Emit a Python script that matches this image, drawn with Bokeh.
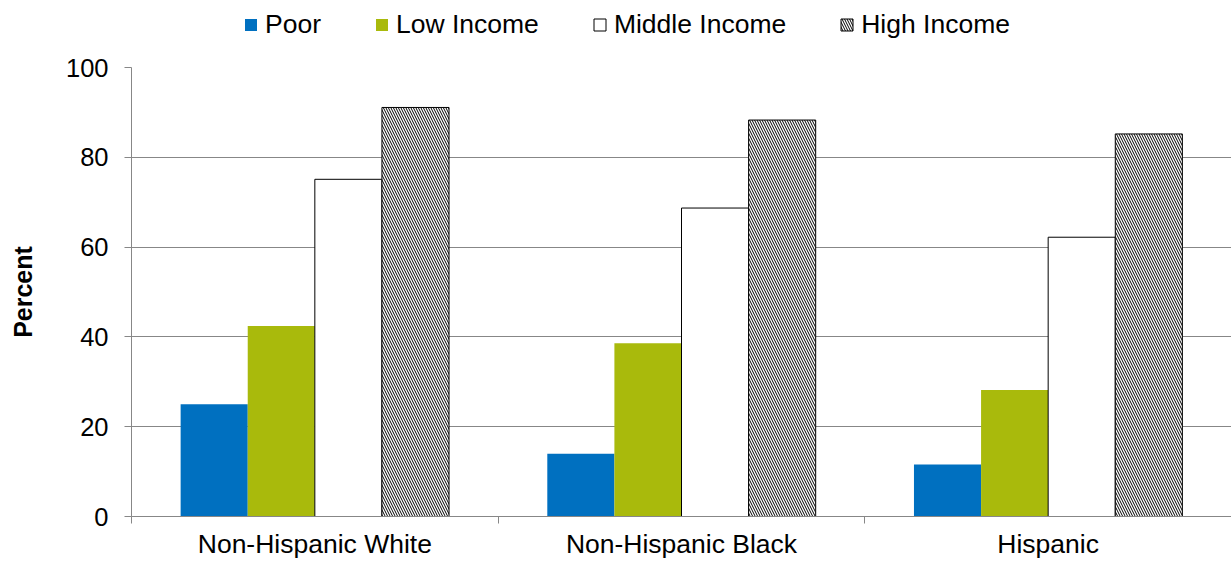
import numpy as np
from bokeh.plotting import figure
from bokeh.layouts import column
from bokeh.models import (ColumnDataSource, FixedTicker, Legend, LegendItem, Range1d)
from bokeh.embed import file_html
from bokeh.resources import INLINE

# ---- data ----
categories = ["Non-Hispanic White", "Non-Hispanic Black", "Hispanic"]
series_names = ["Poor", "Low Income", "Middle Income", "High Income"]
poor = [25.0, 14.0, 11.6]
low_income = [42.4, 38.6, 28.2]
middle_income = [75.1, 68.7, 62.2]
high_income = [91.1, 88.3, 85.2]
y_ticks = [0, 20, 40, 60, 80, 100]

FONT = "Liberation Sans"
GRAY = "#878787"
BLUE = "#0070C0"
GREEN = "#A9BA0C"

centers = np.arange(len(categories)) + 0.5
bw = 0.183
offsets = [-1.5 * bw, -0.5 * bw, 0.5 * bw, 1.5 * bw]

styles = [
    dict(fill_color=BLUE, line_color=None),
    dict(fill_color=GREEN, line_color=None),
    dict(fill_color="white", line_color="black", line_width=1),
    dict(fill_color="white", line_color="black", line_width=1,
         hatch_pattern="\\", hatch_color="black", hatch_scale=5, hatch_weight=1),
]

# ---------------- main chart ----------------
p = figure(width=1231, height=511, output_backend="svg", toolbar_location=None,
           x_range=Range1d(0, 3), y_range=Range1d(0, 100),
           min_border_left=131, min_border_right=0, min_border_top=17,
           min_border_bottom=44)
p.outline_line_color = None
p.background_fill_color = "white"

series = [poor, low_income, middle_income, high_income]
for vals, off, st in zip(series, offsets, styles):
    src = ColumnDataSource(dict(x=centers + off, top=vals))
    p.vbar(x="x", top="top", width=bw, bottom=0, source=src, **st)

p.xgrid.visible = False
p.ygrid.ticker = FixedTicker(ticks=y_ticks[1:])
p.ygrid.grid_line_color = GRAY
p.ygrid.grid_line_width = 1

ya = p.yaxis[0]
ya.ticker = FixedTicker(ticks=y_ticks)
ya.axis_line_color = GRAY
ya.major_tick_line_color = GRAY
ya.major_tick_out = 7
ya.major_tick_in = 0
ya.minor_tick_line_color = None
ya.major_label_standoff = 16
ya.major_label_text_font = FONT
ya.major_label_text_font_size = "25.5px"
ya.major_label_text_color = "black"
ya.axis_label = "Percent"
ya.axis_label_text_font = FONT
ya.axis_label_text_font_style = "bold"
ya.axis_label_text_font_size = "25px"
ya.axis_label_text_color = "black"
ya.axis_label_standoff = 26

xa = p.xaxis[0]
xa.ticker = FixedTicker(ticks=list(centers), minor_ticks=[0, 1, 2, 3])
xa.major_label_overrides = {float(c): lab for c, lab in zip(centers, categories)}
xa.axis_line_color = GRAY
xa.major_tick_line_color = None
xa.major_tick_out = 7
xa.major_tick_in = 0
xa.minor_tick_line_color = GRAY
xa.minor_tick_out = 7
xa.minor_tick_in = 0
xa.major_label_standoff = 5
xa.major_label_text_font = FONT
xa.major_label_text_font_size = "26.5px"
xa.major_label_text_color = "black"

# ---------------- legend strip ----------------
lg = figure(width=1231, height=50, output_backend="svg", toolbar_location=None,
            x_range=Range1d(0, 1), y_range=Range1d(0, 1),
            x_axis_type=None, y_axis_type=None, min_border=0)
lg.outline_line_color = None
lg.xgrid.visible = False
lg.ygrid.visible = False
legend_renderers = []
for st in styles:
    placeholder = ColumnDataSource(dict(x=[np.nan], top=[np.nan]))
    legend_renderers.append(lg.vbar(x="x", top="top", width=0.1, bottom=0,
                                    source=placeholder, **st))
items = [LegendItem(label=n, renderers=[r]) for n, r in zip(series_names, legend_renderers)]
legend = Legend(items=items, orientation="horizontal", location=(112, 10),
                glyph_width=15, glyph_height=15, label_standoff=7, spacing=53,
                padding=0, margin=0, border_line_color=None,
                background_fill_alpha=0, label_text_font=FONT,
                label_text_font_size="26.5px", label_text_color="black",
                label_height=30)
lg.add_layout(legend, "center")

layout = column(lg, p, spacing=0)
open("out.html", "w").write(file_html(layout, INLINE))
